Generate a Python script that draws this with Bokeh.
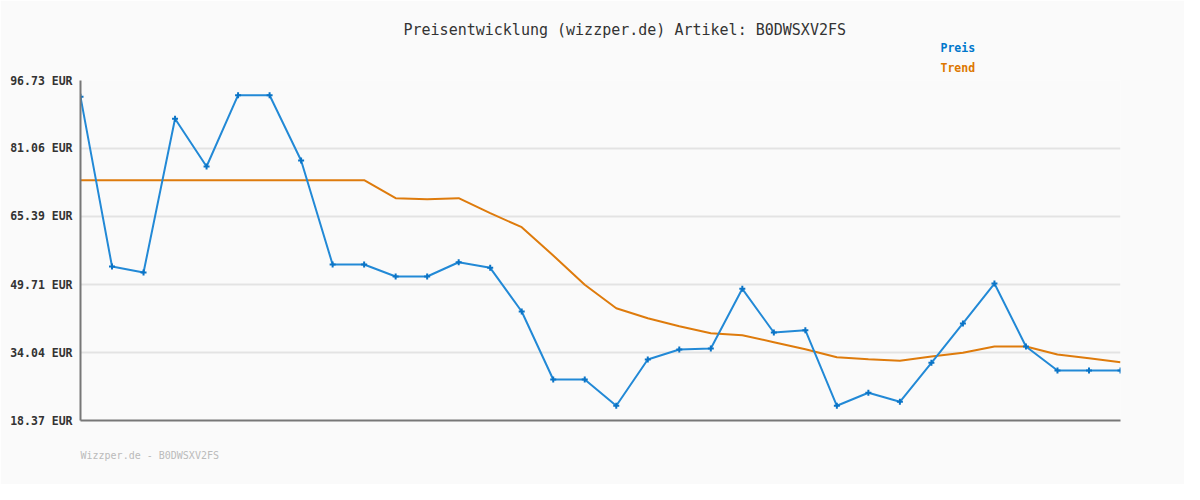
from bokeh.plotting import figure
from bokeh.models import Range1d, FixedTicker, Title
from bokeh.embed import file_html
from bokeh.resources import INLINE

# ---- data ----
preis = [92.97, 53.86, 52.48, 87.90, 76.91, 93.34, 93.34, 78.29, 54.32, 54.32,
         51.56, 51.56, 54.85, 53.56, 43.49, 27.82, 27.82, 21.76, 32.43, 34.73,
         34.96, 48.72, 38.65, 39.18, 21.76, 24.76, 22.68, 31.67, 40.73, 49.94,
         35.43, 29.89, 29.89, 29.89]
trend = [73.75, 73.75, 73.75, 73.75, 73.75, 73.75, 73.75, 73.75, 73.75, 73.75,
         69.60, 69.37, 69.60, 66.15, 62.92, 56.40, 49.65, 44.25, 41.95, 40.10,
         38.49, 38.03, 36.42, 34.80, 32.96, 32.50, 32.13, 33.12, 33.97, 35.43,
         35.43, 33.58, 32.73, 31.81]
idx = list(range(len(preis)))
tick_values = [18.37, 34.04, 49.71, 65.39, 81.06, 96.73]
tick_labels = ["18.37 EUR", "34.04 EUR", "49.71 EUR", "65.39 EUR", "81.06 EUR", "96.73 EUR"]
title_text = "Preisentwicklung (wizzper.de) Artikel: B0DWSXV2FS"
footer_text = "Wizzper.de - B0DWSXV2FS"
legend_names = ["Preis", "Trend"]

BG = "#fafafa"
BLUE_LINE = "#2289d6"
BLUE_MARK = "#0b74c6"
ORANGE = "#de7b0c"
MONO = "DejaVu Sans Mono"

ymin, ymax = tick_values[0], tick_values[-1]

p = figure(width=1184, height=484, output_backend="svg", toolbar_location=None,
           x_range=Range1d(0, len(preis) - 1), y_range=Range1d(ymin, ymax),
           min_border_left=80, min_border_right=64, min_border_top=80,
           min_border_bottom=64)
p.background_fill_color = BG
p.border_fill_color = BG
p.outline_line_color = None

# axes
xax = p.xaxis[0]
xax.major_label_text_color = None
xax.major_label_text_font_size = "0px"
xax.major_label_standoff = 0
xax.major_tick_out = 0
xax.major_tick_line_color = None
xax.minor_tick_line_color = None
xax.axis_line_color = "#777777"
xax.axis_line_width = 2

p.yaxis.ticker = FixedTicker(ticks=tick_values)
p.yaxis.major_label_overrides = {v: s for v, s in zip(tick_values, tick_labels)}
p.yaxis.major_label_text_font = MONO
p.yaxis.major_label_text_font_size = "11.5px"
p.yaxis.major_label_text_font_style = "bold"
p.yaxis.major_label_text_color = "#333333"
p.yaxis.major_tick_line_color = None
p.yaxis.minor_tick_line_color = None
p.yaxis.major_tick_out = 0
p.yaxis.major_label_standoff = 8
p.yaxis.axis_line_color = "#777777"
p.yaxis.axis_line_width = 2

p.xgrid.grid_line_color = None
p.ygrid.ticker = FixedTicker(ticks=tick_values)
p.ygrid.grid_line_color = "#e3e3e3"
p.ygrid.grid_line_width = 2

# series
p.line(idx, trend, line_color=ORANGE, line_width=2)
p.line(idx, preis, line_color=BLUE_LINE, line_width=2)
p.scatter(idx, preis, marker="cross", size=6, line_color=BLUE_MARK, line_width=2)

# texts as titles in the side panels (first added = closest to the frame)
p.add_layout(Title(text=legend_names[1], align="left", offset=860, standoff=12,
                   text_font=MONO, text_font_size="11.5px", text_font_style="bold",
                   text_color="#dd7700"), "above")
p.add_layout(Title(text=legend_names[0], align="left", offset=860, standoff=-5,
                   text_font=MONO, text_font_size="11.5px", text_font_style="bold",
                   text_color="#0077cc"), "above")
p.add_layout(Title(text=title_text, align="left", offset=323, standoff=5,
                   text_font=MONO, text_font_size="15px", text_font_style="normal",
                   text_color="#333333"), "above")
p.add_layout(Title(text=footer_text, align="left", offset=0, standoff=46,
                   text_font=MONO, text_font_size="10px", text_font_style="normal",
                   text_color="#bbbbbb"), "below")

html = file_html(p, INLINE)
open("out.html", "w").write(html)
